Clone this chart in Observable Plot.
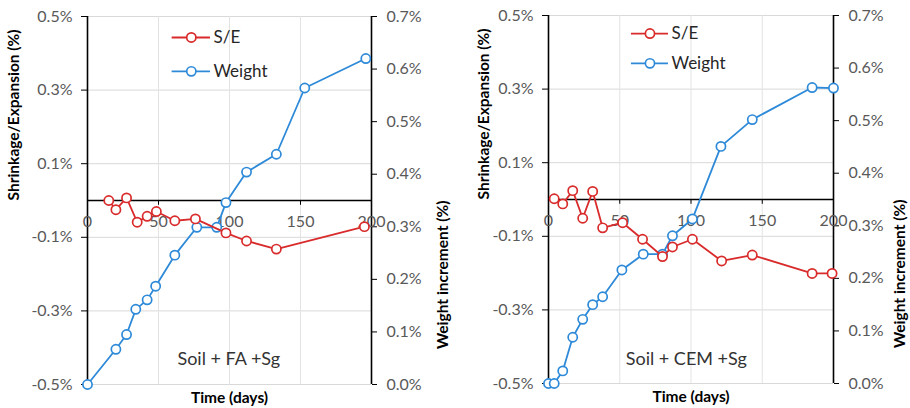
<!DOCTYPE html>
<html>
<head>
<meta charset="utf-8">
<script src="https://cdn.jsdelivr.net/npm/d3@7"></script>
<script src="https://cdn.jsdelivr.net/npm/@observablehq/plot@0.6"></script>
<style>
  html, body { margin: 0; padding: 0; background: #fff; }
  #wrap { display: flex; width: 910px; height: 408px; }
  #wrap > div { width: 455px; height: 408px; }
  svg { overflow: visible; }
</style>
</head>
<body>
<div id="wrap"><div id="p1"></div><div id="p2"></div></div>
<script>
// ---- data ----
const xTicks = [0, 50, 100, 150, 200];
const leftTicks = [-0.5, -0.3, -0.1, 0.1, 0.3, 0.5];
const rightTicks = [0, 0.1, 0.2, 0.3, 0.4, 0.5, 0.6, 0.7];
const seriesNames = ["S/E", "Weight"];

const faSeDays = [15, 20, 27.5, 35, 42, 48.5, 61.5, 76, 97.5, 112, 133, 195];
const faSe = [0.000, -0.025, 0.007, -0.059, -0.043, -0.030, -0.055, -0.050, -0.088, -0.110, -0.132, -0.071];
const faWDays = [0, 20, 27.5, 34, 42, 48, 61.5, 77, 91, 97.5, 112, 133, 153, 196];
const faW = [0, 0.067, 0.095, 0.143, 0.161, 0.187, 0.246, 0.299, 0.299, 0.346, 0.404, 0.438, 0.564, 0.620];

const cemSeDays = [4, 10, 17, 24, 31, 38, 52, 66, 80, 87, 101, 121.5, 143, 185, 199];
const cemSe = [0.002, -0.012, 0.024, -0.051, 0.022, -0.077, -0.063, -0.108, -0.155, -0.129, -0.108, -0.167, -0.151, -0.201, -0.201];
const cemWDays = [0, 4, 10, 17, 24, 31, 38, 51.5, 66.5, 80, 87, 101, 121, 143, 185, 200];
const cemW = [0, 0, 0.024, 0.088, 0.122, 0.150, 0.165, 0.216, 0.246, 0.246, 0.281, 0.313, 0.451, 0.502, 0.563, 0.562];

const RED = "#d92b2b";
const BLUE = "#2e8ad8";

// map weight axis (0..0.7) onto the left axis (-0.5..0.5)
const w2y = d3.scaleLinear().domain([0, 0.7]).range([-0.5, 0.5]);

function panel(cfg) {
  const se = cfg.seDays.map((d, i) => ({x: d, y: cfg.se[i]}));
  const w = cfg.wDays.map((d, i) => ({x: d, y: w2y(cfg.w[i])}));
  const legend = [
    {name: seriesNames[0], y: cfg.legY[0], color: RED},
    {name: seriesNames[1], y: cfg.legY[1], color: BLUE}
  ];
  return Plot.plot({
    width: 455,
    height: 408,
    marginLeft: cfg.ml,
    marginRight: cfg.mr,
    marginTop: cfg.mt,
    marginBottom: cfg.mb,
    style: {fontFamily: "Lato, 'Open Sans', sans-serif", fontSize: "16px", color: "black", background: "white"},
    x: {domain: [0, 200], axis: null},
    y: {domain: [-0.5, 0.5], axis: null},
    marks: [
      Plot.gridY(leftTicks, {stroke: "#d9d9d9", strokeOpacity: 1}),
      Plot.gridX([50, 100, 150], {stroke: "#e3e3e3", strokeOpacity: 1}),
      Plot.axisY(leftTicks, {anchor: "left", tickSize: 6, tickPadding: 9, stroke: "black", fill: "#595959",
        tickFormat: d => d.toFixed(1) + "%", label: null}),
      Plot.axisY(rightTicks.map(t => w2y(t)), {anchor: "right", tickSize: 5, tickPadding: 10, stroke: "black", fill: "#595959",
        tickFormat: d => w2y.invert(d).toFixed(1) + "%", label: null}),
      Plot.ruleX([0, 200], {stroke: "black", strokeWidth: 1.6}),
      Plot.ruleY([0], {stroke: "black", strokeWidth: 1.6}),
      Plot.ruleX(xTicks, {y1: 0, y2: -0.013, stroke: "black", strokeWidth: 1}),
      Plot.text(xTicks, {x: d => d, y: 0, dy: 21, text: d => String(d), fill: "#595959", lineAnchor: "middle"}),
      // series
      Plot.line(w, {x: "x", y: "y", stroke: BLUE, strokeWidth: 1.8}),
      Plot.dot(w, {x: "x", y: "y", r: 4.6, stroke: BLUE, strokeWidth: 1.7, fill: "white"}),
      Plot.line(se, {x: "x", y: "y", stroke: RED, strokeWidth: 1.8}),
      Plot.dot(se, {x: "x", y: "y", r: 4.6, stroke: RED, strokeWidth: 1.7, fill: "white"}),
      // legend
      Plot.ruleY(legend, {y: "y", x1: cfg.legX[0], x2: cfg.legX[1], stroke: "color", strokeWidth: 1.8}),
      Plot.dot(legend, {x: (cfg.legX[0] + cfg.legX[1]) / 2, y: "y", r: 4.6, stroke: "color", strokeWidth: 1.7, fill: "white"}),
      Plot.text(legend, {x: cfg.legX[1], y: "y", dx: 3, text: "name", textAnchor: "start", fontSize: 17, fill: "#262626"}),
      // annotation
      Plot.text([cfg.note], {x: cfg.noteX, y: cfg.noteY, text: d => d, fontSize: 18, fill: "#333333"}),
      // axis titles
      Plot.text(["Shrinkage/Expansion (%)"], {frameAnchor: "left", dx: cfg.ltdx, rotate: -90, text: d => d,
        fontWeight: "bold", fontSize: 15.5, fill: "black"}),
      Plot.text(["Weight increment (%)"], {frameAnchor: "right", dx: cfg.rtdx, rotate: -90, text: d => d,
        fontWeight: "bold", fontSize: 15.5, fill: "black"}),
      Plot.text(["Time (days)"], {frameAnchor: "bottom", dy: cfg.tdy, text: d => d, lineAnchor: "middle",
        fontWeight: "bold", fontSize: 15.5, fill: "black"})
    ]
  });
}

document.getElementById("p1").appendChild(panel({
  seDays: faSeDays, se: faSe, wDays: faWDays, w: faW,
  ml: 87, mr: 84, mt: 16, mb: 24,
  legX: [59.6, 86.6], legY: [0.443, 0.351],
  note: "Soil + FA +Sg", noteX: 99.5, noteY: -0.43,
  ltdx: -73, rtdx: 72, tdy: 14
}));
document.getElementById("p2").appendChild(panel({
  seDays: cemSeDays, se: cemSe, wDays: cemWDays, w: cemW,
  ml: 93, mr: 77, mt: 15, mb: 25,
  legX: [58.2, 84.2], legY: [0.451, 0.370],
  note: "Soil + CEM +Sg", noteX: 96.7, noteY: -0.434,
  ltdx: -64, rtdx: 67, tdy: 14
}));
</script>
</body>
</html>
